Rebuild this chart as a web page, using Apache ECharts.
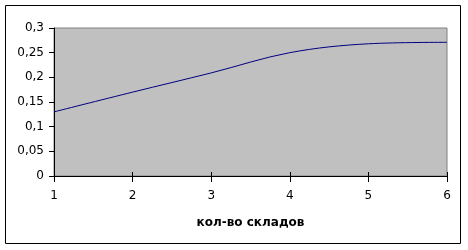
<!DOCTYPE html>
<html>
<head>
<meta charset="utf-8">
<script src="https://cdn.jsdelivr.net/npm/echarts@6/dist/echarts.min.js"></script>
<style>
html,body{margin:0;padding:0;background:#fff;}
#c{width:468px;height:250px;}
</style>
</head>
<body>
<div id="c"></div>
<script>
var categories = [1, 2, 3, 4, 5, 6];
var values = [0.13, 0.17, 0.209, 0.25, 0.268, 0.271];
var yTicks = [0, 0.05, 0.1, 0.15, 0.2, 0.25, 0.3];
var xTitle = 'кол-во складов';

var chart = echarts.init(document.getElementById('c'), null, {renderer: 'canvas'});
var font = 'DejaVu Sans, Liberation Sans, Arial, sans-serif';
var data = categories.map(function (c, i) { return [c, values[i]]; });

chart.setOption({
  animation: false,
  backgroundColor: '#ffffff',
  graphic: [{
    type: 'rect',
    shape: {x: 5.5, y: 5.5, width: 455, height: 238},
    style: {fill: 'none', stroke: '#000', lineWidth: 1},
    silent: true,
    z: 0
  }],
  grid: {
    left: 54, right: 21, top: 28, bottom: 74,
    show: true,
    backgroundColor: '#c0c0c0',
    borderColor: '#808080',
    borderWidth: 1
  },
  xAxis: [{
    type: 'value',
    min: 1, max: 6, interval: 1,
    name: xTitle,
    nameLocation: 'middle',
    nameGap: 41,
    nameTextStyle: {fontFamily: font, fontSize: 12, fontWeight: 'bold', color: '#000'},
    axisLine: {show: true, lineStyle: {color: '#000', width: 1}},
    axisTick: {show: true, length: 6, lineStyle: {color: '#000'}},
    axisLabel: {margin: 14, fontFamily: font, fontSize: 12, color: '#000'},
    splitLine: {show: false}
  }, {
    type: 'value',
    position: 'bottom',
    offset: 0,
    min: 1, max: 6, interval: 1,
    axisLine: {show: false},
    axisTick: {show: true, inside: true, length: 4, lineStyle: {color: '#000'}},
    axisLabel: {show: false},
    splitLine: {show: false}
  }],
  yAxis: {
    type: 'value',
    min: 0, max: 0.3, interval: 0.05,
    axisLine: {show: true, lineStyle: {color: '#000', width: 1}},
    axisTick: {show: true, length: 5, lineStyle: {color: '#000'}},
    axisLabel: {
      margin: 10, fontFamily: font, fontSize: 12, color: '#000',
      formatter: function (v) {
        var t = yTicks.filter(function (y) { return Math.abs(y - v) < 1e-9; })[0];
        return String(+t.toFixed(2)).replace('.', ',');
      }
    },
    splitLine: {show: false}
  },
  series: [{
    type: 'line',
    data: data,
    smooth: 0.35,
    symbol: 'none',
    lineStyle: {color: '#000080', width: 1},
    xAxisIndex: 0
  }]
});
</script>
</body>
</html>
